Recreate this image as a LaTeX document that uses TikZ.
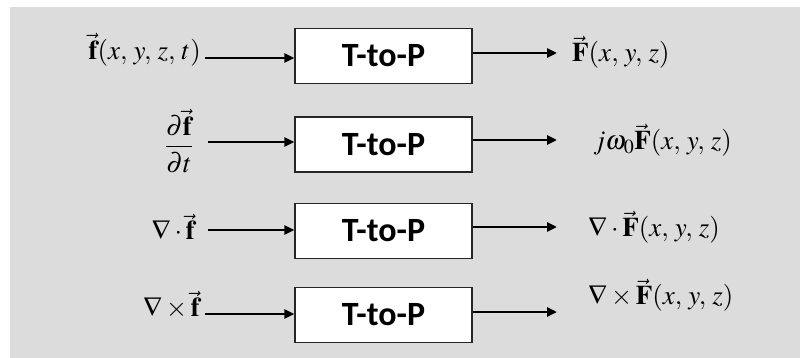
\documentclass[tikz,border=0pt]{standalone}
\usepackage{mathptmx}
\usepackage[no-math]{fontspec}
\setsansfont{Carlito}
\usetikzlibrary{arrows.meta}

\definecolor{panelgray}{RGB}{220,220,220}

\begin{document}
\begin{tikzpicture}[x=1pt,y=-1pt,
  arr/.style={line width=2.5pt,-{Triangle[length=10pt,width=9pt]}}]

    % `ttop' is the transform block, `lbl' the formulas on either side.
    \tikzstyle{ttop} = [draw=black!85,line width=1.2pt,fill=white,minimum width=177pt,
      minimum height=55pt,inner sep=0pt,font=\sffamily\bfseries\fontsize{34}{40}\selectfont]
    \tikzstyle{lbl} = [inner sep=0pt,font=\fontsize{27}{32}\selectfont]
    %
    \useasboundingbox (0,0) rectangle (805,358);
    \fill[panelgray] (10,7) rectangle (800,358);

    % Blocks.
    \node[ttop] (tp1) at (383.5,56) {T-to-P};
    \node[ttop] (tp2) at (383.5,144.5) {T-to-P};
    \node[ttop] (tp3) at (383.5,231) {T-to-P};
    \node[ttop] (tp4) at (383.5,315) {T-to-P};

    % Time-domain inputs.
    \node[lbl,anchor=east] (in1) at (201,50) {$\vec{\mathbf{f}}(x,\,y,\,z,\,t)$};
    \node[lbl] (in2) at (179,141) {$\displaystyle\frac{\partial\vec{\mathbf{f}}}{\partial t}$};
    \node[lbl,anchor=east] (in3) at (195,227) {$\nabla\cdot\vec{\mathbf{f}}$};
    \node[lbl,anchor=east] (in4) at (200,305) {$\nabla\times\vec{\mathbf{f}}$};

    % Phasor outputs.
    \node[lbl,anchor=west] (out1) at (572,52) {$\vec{\mathbf{F}}(x,\,y,\,z)$};
    \node[lbl,anchor=west] (out2) at (593,140) {$j\omega_0\vec{\mathbf{F}}(x,\,y,\,z)$};
    \node[lbl,anchor=west] (out3) at (588,227) {$\nabla\cdot\vec{\mathbf{F}}(x,\,y,\,z)$};
    \node[lbl,anchor=west] (out4) at (588,295) {$\nabla\times\vec{\mathbf{F}}(x,\,y,\,z)$};

    % Arrow ends.
    \coordinate (a1) at (205,58);
    \coordinate (a2) at (208,142);
    \coordinate (a3) at (208,230);
    \coordinate (a4) at (205,314);
    \coordinate (b1) at (557,53);
    \coordinate (b2) at (557,140);
    \coordinate (b3) at (557,227);
    \coordinate (b4) at (557,312);

    \draw[arr] (a1) -- (a1 -| tp1.west);
    \draw[arr] (a2) -- (a2 -| tp2.west);
    \draw[arr] (a3) -- (a3 -| tp3.west);
    \draw[arr] (a4) -- (a4 -| tp4.west);
    \draw[arr] (b1 -| tp1.east) -- (b1);
    \draw[arr] (b2 -| tp2.east) -- (b2);
    \draw[arr] (b3 -| tp3.east) -- (b3);
    \draw[arr] (b4 -| tp4.east) -- (b4);
    %
\end{tikzpicture}
\end{document}
